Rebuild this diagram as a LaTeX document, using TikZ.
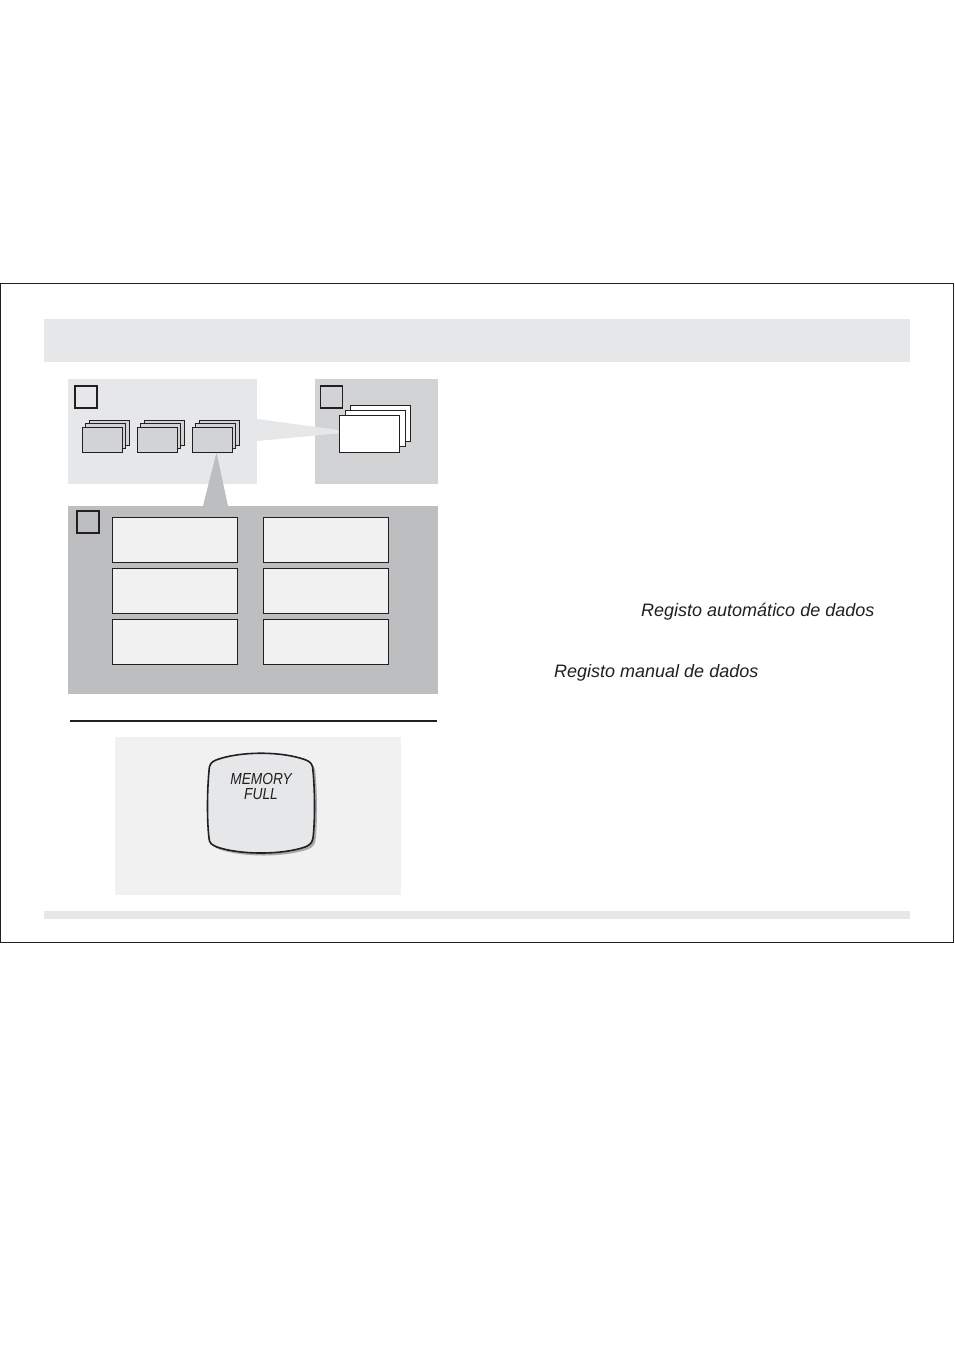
\documentclass[tikz,border=0pt]{standalone}
\usepackage{fontspec}
\setmainfont{Liberation Sans}
\newfontfamily\condfont[FakeStretch=0.86]{Liberation Sans}
\definecolor{ink}{HTML}{231F20}
\definecolor{lightgray}{HTML}{E6E7E8}
\definecolor{midgray}{HTML}{D1D3D4}
\definecolor{darkgray}{HTML}{BCBEC0}
\definecolor{palegray}{HTML}{F1F1F2}
\definecolor{shadowgray}{HTML}{A7A9AC}
\tikzset{
  card/.style={draw=ink,line width=1pt,fill=midgray},
  whitecard/.style={draw=ink,line width=1pt,fill=white},
  cell/.style={draw=ink,line width=1.1pt,fill=palegray},
  tag/.style={draw=ink,line width=1.1pt},
  label/.style={anchor=base west,inner sep=0pt,font=\fontsize{18}{20}\selectfont\itshape,text=ink},
  lcd/.style={anchor=base,inner sep=0pt,font=\condfont\fontsize{16}{16}\selectfont\itshape,text=ink}
}
\begin{document}
\begin{tikzpicture}[x=1pt,y=-1pt]
\useasboundingbox (0,0) rectangle (954,1351);
\fill[white] (0,0) rectangle (954,1351);
% frame
\draw[ink,line width=1pt] (0.5,283) rectangle (953.5,942);
% header / footer bars
\fill[lightgray] (44,319) rectangle (910,362);
\fill[lightgray] (44,911) rectangle (910,919);
% panels
\fill[lightgray] (68,379) rectangle (257,484);
\fill[midgray] (315,379) rectangle (438,484);
\fill[darkgray] (68,506) rectangle (438,694);
% funnel to right panel
\fill[lightgray] (257,419) -- (353,432) -- (257,441) -- cycle;
% stacks in top-left panel
\foreach \sx in {82,137,192}{
  \draw[card] (\sx+7,420) rectangle ++(40,25);
  \draw[card] (\sx+3.5,423.5) rectangle ++(40,25);
  \draw[card] (\sx,427) rectangle ++(40,25.5);
}
% down wedge to big panel
\fill[darkgray] (216.5,452.5) -- (228,506) -- (203,506) -- cycle;
% right stack
\draw[whitecard] (350,405) rectangle (410.5,441);
\draw[whitecard] (345,410) rectangle (405,446.5);
\draw[whitecard] (339.5,415.5) rectangle (399.5,452.5);
% small squares
\draw[tag] (75,386) rectangle (97,408);
\draw[tag,line width=1.6pt] (320.5,386) rectangle (342.5,408);
\draw[tag] (77,511) rectangle (99,533);
% grid of cells
\foreach \cx in {112.5,263.5}{
  \foreach \cy in {517.5,568.5,619.5}{
    \draw[cell] (\cx,\cy) rectangle ++(125,45);
  }
}
% separator
\draw[ink,line width=1.4pt] (70,721) -- (437,721);
% bottom panel
\fill[palegray] (115,737) rectangle (401,895);
% button shadow
\begin{scope}[shift={(2.5,2.5)}]
\fill[shadowgray] (216,760) .. controls (240,751) and (282,751) .. (306,760)
 .. controls (311,762) and (313,765) .. (313,771)
 .. controls (315,792) and (315,822) .. (313,838)
 .. controls (312,843) and (310,845) .. (305,847)
 .. controls (282,855) and (240,855) .. (217,847)
 .. controls (212,845) and (209,843) .. (209,838)
 .. controls (207,822) and (207,792) .. (209,771)
 .. controls (209,765) and (211,762) .. (216,760) -- cycle;
\end{scope}
\draw[ink,line width=1.6pt,fill=lightgray] (216,760) .. controls (240,751) and (282,751) .. (306,760)
 .. controls (311,762) and (313,765) .. (313,771)
 .. controls (315,792) and (315,822) .. (313,838)
 .. controls (312,843) and (310,845) .. (305,847)
 .. controls (282,855) and (240,855) .. (217,847)
 .. controls (212,845) and (209,843) .. (209,838)
 .. controls (207,822) and (207,792) .. (209,771)
 .. controls (209,765) and (211,762) .. (216,760) -- cycle;
\node[lcd] (mem) at (261,784) {MEMORY};
\node[lcd] (full) at (261,799) {FULL};
% labels
\node[label] (auto) at (641,616.5) {Registo automático de dados};
\node[label] (manual) at (554,677.5) {Registo manual de dados};
\end{tikzpicture}
\end{document}
